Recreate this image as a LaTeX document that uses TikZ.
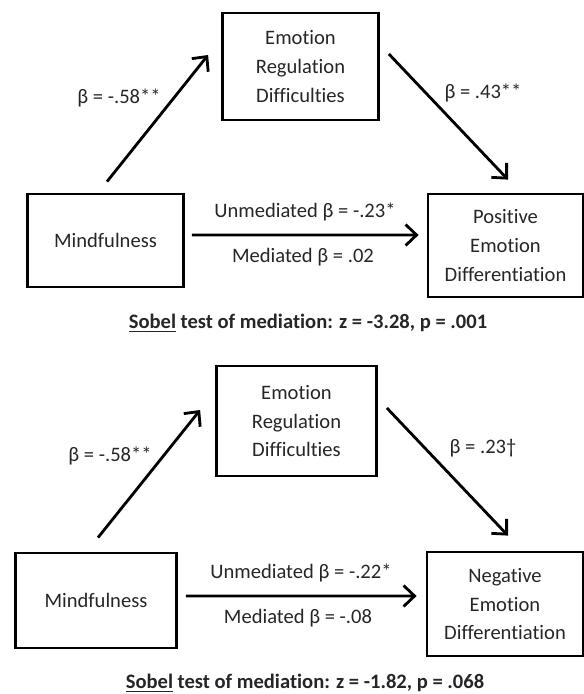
\documentclass[tikz,border=0pt]{standalone}
\usepackage{fontspec}
\setmainfont{Carlito}[Ligatures=NoCommon]
\usepackage{tikz}
\usetikzlibrary{arrows.meta}

\begin{document}
\begin{tikzpicture}[x=0.02cm,y=-0.02cm,
  every node/.style={text=black!85,font=\fontsize{11.7}{16.5}\selectfont},
  varbox/.style={draw=black,line width=1.6pt,align=center,inner sep=0pt},
  effect/.style={draw=black,line width=1.6pt,-{Straight Barb[length=0.22cm,width=0.42cm]}},
  sobel/.style={font=\fontsize{11.7}{16.5}\selectfont\bfseries}]
 \useasboundingbox (0,0) rectangle (584,694);
 \node[varbox,minimum width=3.12cm,minimum height=1.86cm] (mindA) at (105.5,240.5) {Mindfulness};
  \node[varbox,minimum width=3.12cm,minimum height=2.14cm] (erdA) at (300.5,66.5) {Emotion\\Regulation\\Difficulties};
   \node[varbox,minimum width=3.1cm,minimum height=2.06cm] (posA) at (505.5,245.5) {Positive\\Emotion\\Differentiation};
 \draw[effect] ([xshift=0.03cm,yshift=0.22cm]mindA.north) -- ([xshift=-0.26cm,yshift=0.23cm]erdA.west);
  \draw[effect] ([xshift=0.18cm,yshift=0.25cm]erdA.east) -- ([xshift=0.05cm,yshift=0.26cm]posA.north);
   \draw[effect] ([xshift=0.14cm,yshift=0.11cm]mindA.east) -- ([xshift=-0.16cm,yshift=0.21cm]posA.west);
 \node (aA) at (119,98) {β = -.58**};
  \node (bA) at (483,93) {β = .43**};
   \node (unA) at (305,212) {Unmediated β = -.23*};
    \node (meA) at (303,257) {Mediated β = .02};
     \node[sobel] (sobA) at (308,323) {\underline{Sobel} test of mediation: z = -3.28, p = .001};
 \node[varbox,minimum width=3.22cm,minimum height=1.9cm] (mindB) at (96,600.5) {Mindfulness};
  \node[varbox,minimum width=3.2cm,minimum height=2.2cm] (erdB) at (296.5,421) {Emotion\\Regulation\\Difficulties};
   \node[varbox,minimum width=3.12cm,minimum height=2.08cm] (negB) at (505,604) {Negative\\Emotion\\Differentiation};
 \draw[effect] ([xshift=0.04cm,yshift=0.28cm]mindB.north) -- ([xshift=-0.3cm,yshift=0.22cm]erdB.west);
  \draw[effect] ([xshift=0.18cm,yshift=0.26cm]erdB.east) -- ([xshift=0.06cm,yshift=0.3cm]negB.north);
   \draw[effect] ([xshift=0.16cm,yshift=0.09cm]mindB.east) -- ([xshift=-0.18cm,yshift=0.16cm]negB.west);
 \node (aB) at (110,456) {β = -.58**};
  \node (bB) at (483,448) {β = .23†};
   \node (unB) at (301,573) {Unmediated β = -.22*};
    \node (meB) at (298,618) {Mediated β = -.08};
     \node[sobel] (sobB) at (305,683) {\underline{Sobel} test of mediation: z = -1.82, p = .068};
    \end{tikzpicture}
\end{document}
